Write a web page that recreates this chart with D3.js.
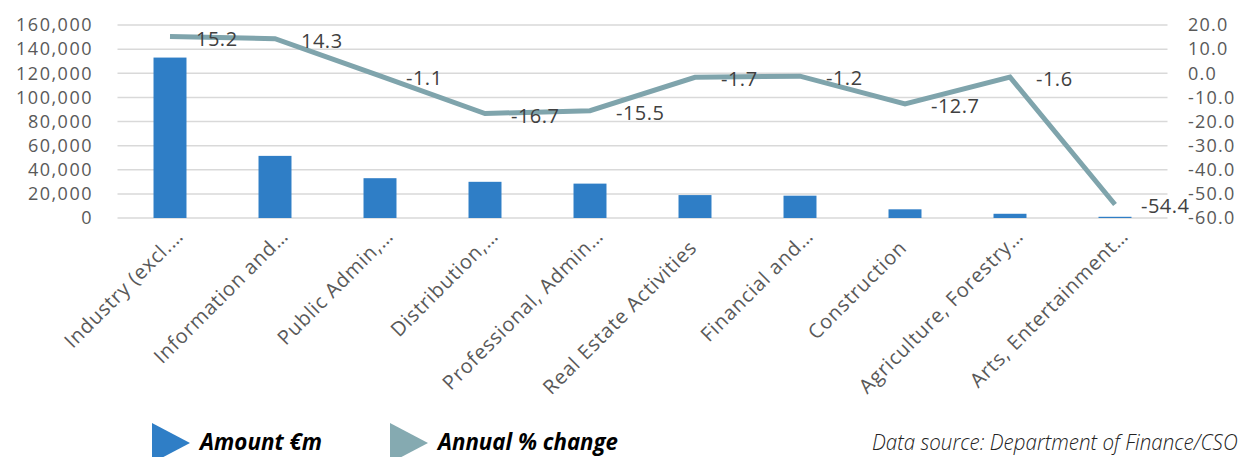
<!DOCTYPE html>
<html>
<head>
<meta charset="utf-8">
<script src="https://cdn.jsdelivr.net/npm/d3@7"></script>
<style>
  html, body { margin: 0; padding: 0; background: #fff; }
  svg { display: block; font-family: "Open Sans", sans-serif; }
</style>
</head>
<body>
<svg id="chart" width="1246" height="457"></svg>
<script>
// Gross value added by sector: amount (€m) and annual % change
const categories = [
  "Industry (excl.…", "Information and…", "Public Admin,…", "Distribution,…",
  "Professional, Admin…", "Real Estate Activities", "Financial and…",
  "Construction", "Agriculture, Forestry…", "Arts, Entertainment…"
];
const amounts = [133000, 51500, 33000, 30000, 28500, 19000, 18500, 7200, 3500, 1000];
const pctChange = [15.2, 14.3, -1.1, -16.7, -15.5, -1.7, -1.2, -12.7, -1.6, -54.4];
const leftTicks = [0, 20000, 40000, 60000, 80000, 100000, 120000, 140000, 160000];
const rightTicks = [20, 10, 0, -10, -20, -30, -40, -50, -60];

const svg = d3.select("#chart");
const axisColor = "#595959";

// plain hyphen-minus, one decimal
const fmt1 = d => d.toFixed(1);

const x = d3.scaleBand().domain(d3.range(categories.length))
  .range([117.5, 1167.5]).paddingInner(0.686).paddingOuter(0.343);
const yL = d3.scaleLinear().domain([0, 160000]).range([218, 25]);
const yR = d3.scaleLinear().domain([-60, 20]).range([218, 25]);
const cx = i => x(i) + x.bandwidth() / 2;

// gridlines
svg.append("g").selectAll("line").data(leftTicks).join("line")
  .attr("x1", 117.5).attr("x2", 1167.5)
  .attr("y1", d => yL(d)).attr("y2", d => yL(d))
  .attr("stroke", "#d9d9d9").attr("stroke-width", 1.5);

// left axis
const leftAxis = svg.append("g").attr("transform", "translate(93,0)")
  .call(d3.axisLeft(yL).tickValues(leftTicks).tickSize(0).tickPadding(0)
    .tickFormat(d3.format(",")));
leftAxis.select(".domain").remove();
leftAxis.selectAll("text").attr("fill", axisColor).style("font-size", "18px")
  .style("letter-spacing", "1.5px").style("font-family", "Open Sans");

// right axis
const rightAxis = svg.append("g").attr("transform", "translate(1188,0)")
  .call(d3.axisRight(yR).tickValues(rightTicks).tickSize(0).tickPadding(0)
    .tickFormat(fmt1));
rightAxis.select(".domain").remove();
rightAxis.selectAll("text").attr("fill", axisColor).style("font-size", "18px")
  .style("letter-spacing", "1.2px").style("font-family", "Open Sans");

// bars
svg.append("g").selectAll("rect").data(amounts).join("rect")
  .attr("x", (d, i) => x(i)).attr("width", x.bandwidth())
  .attr("y", d => yL(d)).attr("height", d => yL(0) - yL(d))
  .attr("fill", "#2f7ec6");

// line
const line = d3.line().x((d, i) => cx(i)).y(d => yR(d));
svg.append("path").datum(pctChange)
  .attr("d", line).attr("fill", "none")
  .attr("stroke", "#7fa4ac").attr("stroke-width", 5)
  .attr("stroke-linejoin", "miter");

// data labels
svg.append("g").selectAll("text").data(pctChange).join("text")
  .attr("x", (d, i) => cx(i) + 26).attr("y", d => yR(d) + 2)
  .attr("dy", "0.35em")
  .attr("fill", "#404040").style("font-size", "20px").style("letter-spacing", "0.5px")
  .text(fmt1);

// category labels, rotated; the ellipsis hangs past the anchor
const catG = svg.append("g");
categories.forEach((name, i) => {
  const trunc = name.endsWith("…");
  const main = trunc ? name.slice(0, -1) : name;
  const g = catG.append("g")
    .attr("transform", `translate(${cx(i) + 3},249) rotate(-45)`);
  g.append("text").attr("text-anchor", "end").attr("fill", axisColor)
    .style("font-size", "20px").style("letter-spacing", "0.8px").text(main);
  if (trunc) {
    g.append("text").attr("text-anchor", "start").attr("fill", axisColor)
      .style("font-size", "20px").text("…");
  }
});

// condensed text: shrink the font to fit the width, then stretch vertically
function condensedText(parent, tx, ty, width, size, text) {
  const t = parent.append("text").attr("x", 0).attr("y", 0)
    .style("font-size", size + "px").text(text);
  const natural = t.node().getComputedTextLength();
  const fs = Math.min(size, size * width / natural);
  t.style("font-size", fs + "px")
    .attr("transform", `translate(${tx},${ty}) scale(1,${size / fs})`);
  return t;
}

// legend
const legend = [
  { label: "Amount €m", color: "#2f7ec6", x: 152, w: 122 },
  { label: "Annual % change", color: "#85aab1", x: 390, w: 180 }
];
legend.forEach(l => {
  svg.append("path")
    .attr("d", `M${l.x},423 L${l.x + 38},443 L${l.x},463 Z`)
    .attr("fill", l.color);
  svg.append("text").attr("x", l.x + 48).attr("y", 450)
    .attr("textLength", l.w).attr("lengthAdjust", "spacingAndGlyphs")
    .style("font-size", "23px").style("font-weight", "bold").style("font-style", "italic")
    .attr("fill", "#000").text(l.label);
});

const src = svg.append("g").style("font-style", "italic").style("font-weight", 300)
  .attr("fill", "#222");
condensedText(src, 872, 450, 366, 22, "Data source: Department of Finance/CSO");
</script>
</body>
</html>
